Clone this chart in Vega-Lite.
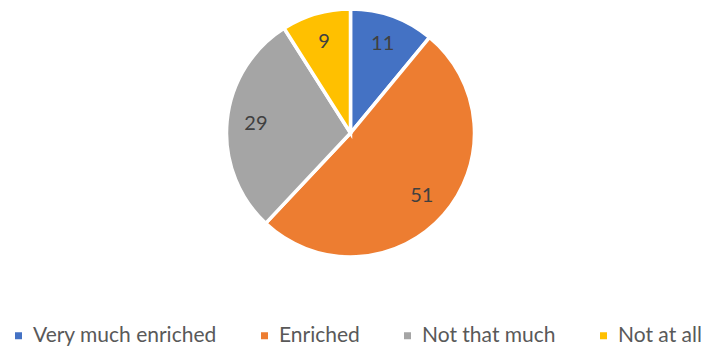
{
  "$schema": "https://vega.github.io/schema/vega-lite/v6.json",
  "width": 701,
  "height": 266,
  "autosize": {"type": "none"},
  "padding": {"top": 0, "left": 0, "right": 0, "bottom": 82},
  "background": "white",
  "data": {"values": [
    {"cat": "Very much enriched", "value": 11, "ord": 1},
    {"cat": "Enriched", "value": 51, "ord": 2},
    {"cat": "Not that much", "value": 29, "ord": 3},
    {"cat": "Not at all", "value": 9, "ord": 4}
  ]},
  "encoding": {
    "theta": {"field": "value", "type": "quantitative", "stack": true},
    "order": {"field": "ord", "type": "quantitative"},
    "color": {
      "field": "cat", "type": "nominal",
      "scale": {"domain": ["Very much enriched", "Enriched", "Not that much", "Not at all"],
                "range": ["#4472C4", "#ED7D31", "#A5A5A5", "#FFC000"]},
      "legend": {
        "title": null, "orient": "none", "direction": "horizontal",
        "legendX": 8, "legendY": 325, "columns": 4,
        "symbolType": "square", "symbolSize": 49, "symbolStrokeWidth": 0,
        "labelFont": "Lato", "labelFontSize": 21, "labelColor": "#595959",
        "columnPadding": 37, "labelOffset": 4, "labelLimit": 400
      }
    }
  },
  "layer": [
    {"mark": {"type": "arc", "outerRadius": 124, "stroke": "white", "strokeWidth": 3.5}},
    {"mark": {"type": "text", "radius": 95, "font": "Lato", "fontSize": 20},
     "encoding": {"text": {"field": "value", "type": "quantitative"}, "color": {"value": "#404040"}}}
  ],
  "config": {"view": {"stroke": null}}
}
